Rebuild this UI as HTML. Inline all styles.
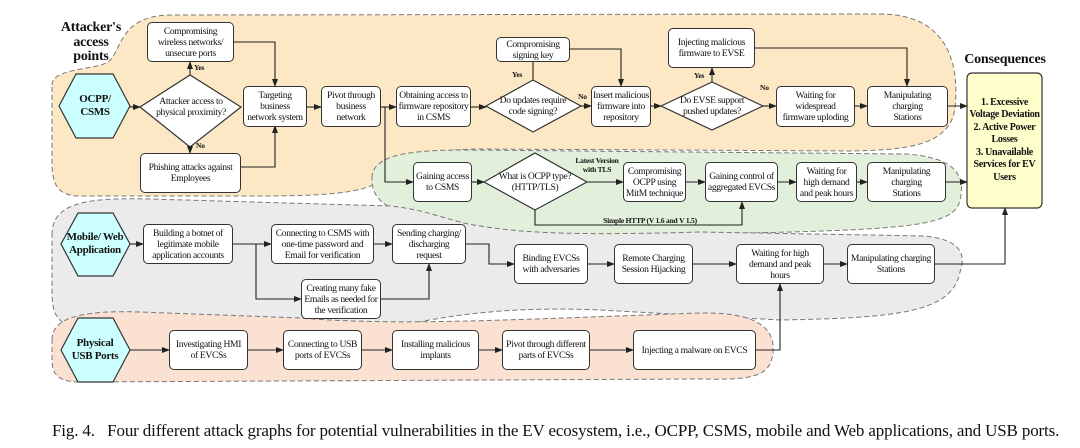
<!DOCTYPE html>
<html><head><meta charset="utf-8"><style>
*{margin:0;padding:0;box-sizing:border-box}
body{width:1080px;height:448px;background:#fff;position:relative;overflow:hidden;font-family:"Liberation Serif",serif;color:#111}
svg{position:absolute;left:0;top:0}
.b{position:absolute;background:#fff;border:1.2px solid #333;border-radius:5px;display:flex;align-items:center;justify-content:center;text-align:center;font-size:9.6px;line-height:11px;padding:0;letter-spacing:-0.35px;white-space:nowrap}
.t{position:absolute;display:flex;align-items:center;justify-content:center;text-align:center;font-size:9.6px;line-height:11px;letter-spacing:-0.35px;white-space:nowrap}
.h{font-weight:bold;font-size:11px;line-height:13px}
.l{position:absolute;font-weight:bold;font-size:7.5px;line-height:9px;text-align:center;letter-spacing:-0.2px;white-space:nowrap}
</style></head><body>
<svg width="1080" height="448" viewBox="0 0 1080 448">
<defs><marker id="a" markerWidth="8" markerHeight="6" refX="7" refY="3" orient="auto" markerUnits="userSpaceOnUse"><path d="M0,0 L8,3 L0,6 Z" fill="#222"/></marker></defs>
<g stroke="#777" stroke-width="1" stroke-dasharray="5,3">
<path d="M52 85 C52 68 95 70 108 62 C122 52 118 16 170 15 L880 14 C945 14 960 60 955 108 C950 148 900 150 850 151 L480 149 C420 150 395 160 380 180 C365 196 300 196 250 196 L80 196 C56 196 52 182 52 162 Z" fill="#fce8c4"/>
<path d="M372 178 C372 152 420 150 470 150 L905 154 C955 157 966 175 960 200 C955 228 900 230 700 234 L560 238 C480 240 400 218 382 202 C373 194 372 186 372 178 Z" fill="#e2efda"/>
<path d="M52 235 C52 205 80 197 150 199 L390 206 C430 210 450 222 480 226 C520 232 560 236 700 232 L925 236 C962 240 966 255 960 272 C952 312 900 318 780 320 L600 310 C480 305 430 322 390 326 L80 326 C56 326 52 312 52 292 Z" fill="#ebebeb"/>
<path d="M52 340 C52 318 80 310 140 312 L300 318 C400 326 500 320 700 313 C760 312 775 330 773 352 C771 378 750 380 700 379 L80 382 C56 382 52 372 52 360 Z" fill="#fbe1d1"/>
</g>
<g fill="#ccffff" stroke="#333" stroke-width="1.2">
<polygon points="59,106 76,74 113,74 130,106 113,138 76,138"/>
<polygon points="61,244 78,213 113,213 130,244 113,276 78,276"/>
<polygon points="61,350 78,318 113,318 130,350 113,382 78,382"/>
</g>
<g fill="#fff" stroke="#333" stroke-width="1.2">
<polygon points="140,107 190,75 241,107 190,147"/>
<polygon points="486,106 533,80 581,106 533,132"/>
<polygon points="661,106 712,82 763,106 712,130"/>
<polygon points="484,182 535,153 587,182 535,210"/>
</g>
<rect x="967" y="73" width="75" height="135" rx="5" fill="#ffffcc" stroke="#333" stroke-width="1.2"/>
<g stroke="#222" stroke-width="1.1" fill="none" marker-end="url(#a)">
<path d="M130 107 H140"/>
<path d="M190 75 V62"/>
<path d="M190 147 V153"/>
<path d="M234 42 H275 V86"/>
<path d="M241 167 H275 V126"/>
<path d="M307 107 H321"/>
<path d="M381 107 H396"/>
<path d="M471 107 H486"/>
<path d="M570 49 H621 V86"/>
<path d="M581 106 H591"/>
<path d="M651 106 H661"/>
<path d="M712 82 V68"/>
<path d="M763 106 H776"/>
<path d="M755 48 H907 V86"/>
<path d="M855 106 H867"/>
<path d="M948 106 H967"/>
<path d="M385 107 V182 H413"/>
<path d="M472 182 H484"/>
<path d="M587 182 H623"/>
<path d="M535 210 V225 H742 V202"/>
<path d="M686 182 H705"/>
<path d="M778 182 H796"/>
<path d="M857 182 H867"/>
<path d="M946 182 H967"/>
<path d="M130 244 H143"/>
<path d="M233 244 H271"/>
<path d="M256 244 V299 H301"/>
<path d="M374 244 H392"/>
<path d="M381 299 H429 V264"/>
<path d="M466 244 H489 V264 H514"/>
<path d="M588 264 H614"/>
<path d="M693 264 H736"/>
<path d="M824 264 H847"/>
<path d="M935 264 H1005 V208"/>
<path d="M130 350 H169"/>
<path d="M248 350 H283"/>
<path d="M362 350 H392"/>
<path d="M479 350 H502"/>
<path d="M590 350 H633"/>
<path d="M756 350 H780 V284"/>
</g>
<path d="M533 80 V62" stroke="#222" stroke-width="1.1"/>
</svg>

<div class="t h" style="left:56px;top:21px;width:70px;height:44px;font-size:14px;line-height:14.5px;letter-spacing:-0.2px">Attacker's<br>access<br>points</div>
<div class="t h" style="left:960px;top:50px;width:90px;height:18px;font-size:14px;letter-spacing:-0.2px">Consequences</div>
<div class="t h" style="left:969px;top:75px;width:71px;height:131px;font-size:10px;line-height:12.5px;letter-spacing:-0.3px">1. Excessive<br>Voltage Deviation<br>2. Active Power<br>Losses<br>3. Unavailable<br>Services for EV<br>Users</div>

<div class="t h" style="left:60px;top:90px;width:70px;height:32px;letter-spacing:-0.3px">OCPP/<br>CSMS</div>
<div class="t h" style="left:60px;top:228px;width:70px;height:32px;letter-spacing:-0.3px">Mobile/ Web<br>Application</div>
<div class="t h" style="left:60px;top:334px;width:70px;height:32px;letter-spacing:-0.3px">Physical<br>USB Ports</div>

<div class="b" style="left:147px;top:22px;width:87px;height:40px">Compromising<br>wireless networks/<br>unsecure ports</div>
<div class="t" style="left:145px;top:95px;width:92px;height:24px">Attacker access to<br>physical proximity?</div>
<div class="b" style="left:140px;top:153px;width:101px;height:40px">Phishing attacks against<br>Employees</div>
<div class="b" style="left:243px;top:86px;width:64px;height:41px">Targeting<br>business<br>network system</div>
<div class="b" style="left:321px;top:86px;width:60px;height:41px">Pivot through<br>business<br>network</div>
<div class="b" style="left:396px;top:86px;width:75px;height:41px">Obtaining access to<br>firmware repository<br>in CSMS</div>
<div class="b" style="left:496px;top:37px;width:74px;height:25px">Compromising<br>signing key</div>
<div class="t" style="left:487px;top:94px;width:92px;height:24px">Do updates require<br>code signing?</div>
<div class="b" style="left:591px;top:86px;width:60px;height:41px">Insert malicious<br>firmware into<br>repository</div>
<div class="b" style="left:668px;top:28px;width:87px;height:40px">Injecting malicious<br>firmware to EVSE</div>
<div class="t" style="left:666px;top:94px;width:92px;height:24px">Do EVSE support<br>pushed updates?</div>
<div class="b" style="left:776px;top:86px;width:79px;height:41px">Waiting for<br>widespread<br>firmware uploding</div>
<div class="b" style="left:867px;top:86px;width:81px;height:41px">Manipulating<br>charging<br>Stations</div>

<div class="b" style="left:413px;top:162px;width:59px;height:40px">Gaining access<br>to CSMS</div>
<div class="t" style="left:489px;top:170px;width:92px;height:24px">What is OCPP type?<br>(HTTP/TLS)</div>
<div class="b" style="left:623px;top:162px;width:63px;height:40px">Compromising<br>OCPP using<br>MitM technique</div>
<div class="b" style="left:705px;top:162px;width:73px;height:40px">Gaining control of<br>aggregated EVCSs</div>
<div class="b" style="left:796px;top:162px;width:61px;height:40px">Waiting for<br>high demand<br>and peak hours</div>
<div class="b" style="left:867px;top:162px;width:79px;height:40px">Manipulating<br>charging<br>Stations</div>

<div class="b" style="left:143px;top:224px;width:90px;height:40px">Building a botnet of<br>legitimate mobile<br>application accounts</div>
<div class="b" style="left:271px;top:224px;width:103px;height:40px">Connecting to CSMS with<br>one-time password and<br>Email for verification</div>
<div class="b" style="left:392px;top:224px;width:74px;height:40px">Sending charging/<br>discharging<br>request</div>
<div class="b" style="left:301px;top:279px;width:80px;height:40px">Creating many fake<br>Emails as needed for<br>the verification</div>
<div class="b" style="left:514px;top:244px;width:74px;height:40px">Binding EVCSs<br>with adversaries</div>
<div class="b" style="left:614px;top:244px;width:79px;height:40px">Remote Charging<br>Session Hijacking</div>
<div class="b" style="left:736px;top:244px;width:88px;height:40px">Waiting for high<br>demand and peak<br>hours</div>
<div class="b" style="left:847px;top:244px;width:88px;height:40px">Manipulating charging<br>Stations</div>

<div class="b" style="left:169px;top:330px;width:79px;height:40px">Investigating HMI<br>of EVCSs</div>
<div class="b" style="left:283px;top:330px;width:79px;height:40px">Connecting to USB<br>ports of EVCSs</div>
<div class="b" style="left:392px;top:330px;width:87px;height:40px">Installing malicious<br>implants</div>
<div class="b" style="left:502px;top:330px;width:88px;height:40px">Pivot through different<br>parts of EVCSs</div>
<div class="b" style="left:633px;top:330px;width:123px;height:40px">Injecting a malware on EVCS</div>

<div class="l" style="left:194px;top:63px">Yes</div>
<div class="l" style="left:196px;top:141px">No</div>
<div class="l" style="left:512px;top:70px">Yes</div>
<div class="l" style="left:578px;top:92px">No</div>
<div class="l" style="left:694px;top:71px">Yes</div>
<div class="l" style="left:760px;top:83px">No</div>
<div class="l" style="left:570px;top:156px;width:54px">Latest Version<br>with TLS</div>
<div class="l" style="left:594px;top:216px;width:112px">Simple HTTP (V 1.6 and V 1.5)</div>

<div style="position:absolute;left:52px;top:421px;font-size:17px;white-space:nowrap;letter-spacing:-0.15px">Fig. 4.&nbsp;&nbsp; Four different attack graphs for potential vulnerabilities in the EV ecosystem, i.e., OCPP, CSMS, mobile and Web applications, and USB ports.</div>
</body></html>
